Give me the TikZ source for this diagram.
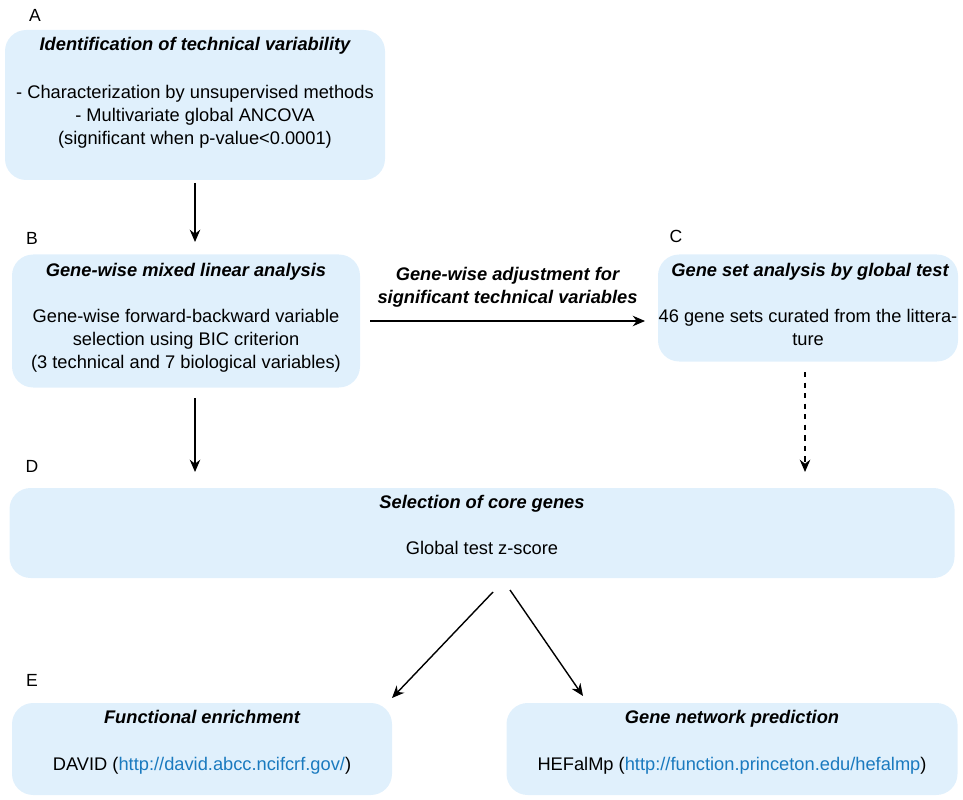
\documentclass[tikz,border=0pt]{standalone}
\usepackage{fontspec}
\setmainfont{Liberation Sans}
\usetikzlibrary{arrows.meta,positioning}
\definecolor{boxblue}{HTML}{E0F0FC}
\definecolor{linkblue}{HTML}{1A7ABF}
\tikzset{
  stepbox/.style={rounded corners=12pt,fill=boxblue,draw=none,inner sep=0pt},
  title/.style={font=\fontsize{10.4}{13}\selectfont\bfseries\itshape,anchor=north,align=center},
  body/.style={anchor=north,align=center},
  tag/.style={font=\normalsize},
  flow/.style={-{Stealth[length=7pt,width=6pt]},thick}
}
\newcommand{\lnk}[1]{\textcolor{linkblue}{#1}}
\begin{document}
\begin{tikzpicture}[x=0.02cm,y=-0.02cm,font=\fontsize{10.4}{13}\selectfont]
\useasboundingbox (0,0) rectangle (963,800);

% boxes
\node[stepbox,minimum width=380*0.02cm,minimum height=150*0.02cm] (A) at (195,105) {};
\node[stepbox,minimum width=348*0.02cm,minimum height=133*0.02cm] (B) at (186,321) {};
\node[stepbox,minimum width=300*0.02cm,minimum height=107*0.02cm] (C) at (808,308) {};
\node[stepbox,minimum width=945*0.02cm,minimum height=90*0.02cm] (D) at (482,533) {};
\node[stepbox,minimum width=380*0.02cm,minimum height=92*0.02cm] (E1) at (202,749) {};
\node[stepbox,minimum width=451*0.02cm,minimum height=92*0.02cm] (E2) at (732,749) {};

% letters
\node[tag] (lA) at (35,15) {A};
\node[tag] (lB) at (32,238) {B};
\node[tag] (lC) at (676,236) {C};
\node[tag] (lD) at (32,466) {D};
\node[tag] (lE) at (32,680) {E};

% texts
\node[title] (tA) at (195,31) {Identification of technical variability};
\node[body] (bA) at (195,79) {- Characterization by unsupervised methods\\- Multivariate global ANCOVA\\(significant when p-value<0.0001)};
\node[title] (tB) at (186,257) {Gene-wise mixed linear analysis};
\node[body] (bB) at (186,303) {Gene-wise forward-backward variable\\selection using BIC criterion\\(3 technical and 7 biological variables)};
\node[title] (tC) at (810,257) {Gene set analysis by global test};
\node[body] (bC) at (808,303) {46 gene sets curated from the littera-\\ture};
\node[title] (tD) at (482,489) {Selection of core genes};
\node[body] (bD) at (482,535) {Global test z-score};
\node[title] (tE1) at (202,704) {Functional enrichment};
\node[body] (bE1) at (202,751) {DAVID (\lnk{http://david.abcc.ncifcrf.gov/})};
\node[title] (tE2) at (732,704) {Gene network prediction};
\node[body] (bE2) at (732,751) {HEFalMp (\lnk{http://function.princeton.edu/hefalmp})};

% connectors
\coordinate (ab) at (195,183);
\coordinate (ba) at (195,242);
\coordinate (bd) at (195,398);
\coordinate (db) at (195,472);
\coordinate (cd) at (805,372);
\coordinate (dc) at (805,472);
\coordinate (bc) at (370,321);
\coordinate (cb) at (645,321);
\coordinate (de1) at (493,592);
\coordinate (e1d) at (392,698);
\coordinate (de2) at (510,590);
\coordinate (e2d) at (583,696);
\draw[flow] (ab) -- (ba);
\draw[flow] (bd) -- (db);
\draw[flow,dashed] (cd) -- (dc);
\draw[flow] (bc) -- node[above=4pt,font=\fontsize{10.4}{13}\selectfont\bfseries\itshape,align=center] {Gene-wise adjustment for\\significant technical variables} (cb);
\draw[flow] (de1) -- (e1d);
\draw[flow] (de2) -- (e2d);
\end{tikzpicture}
\end{document}
